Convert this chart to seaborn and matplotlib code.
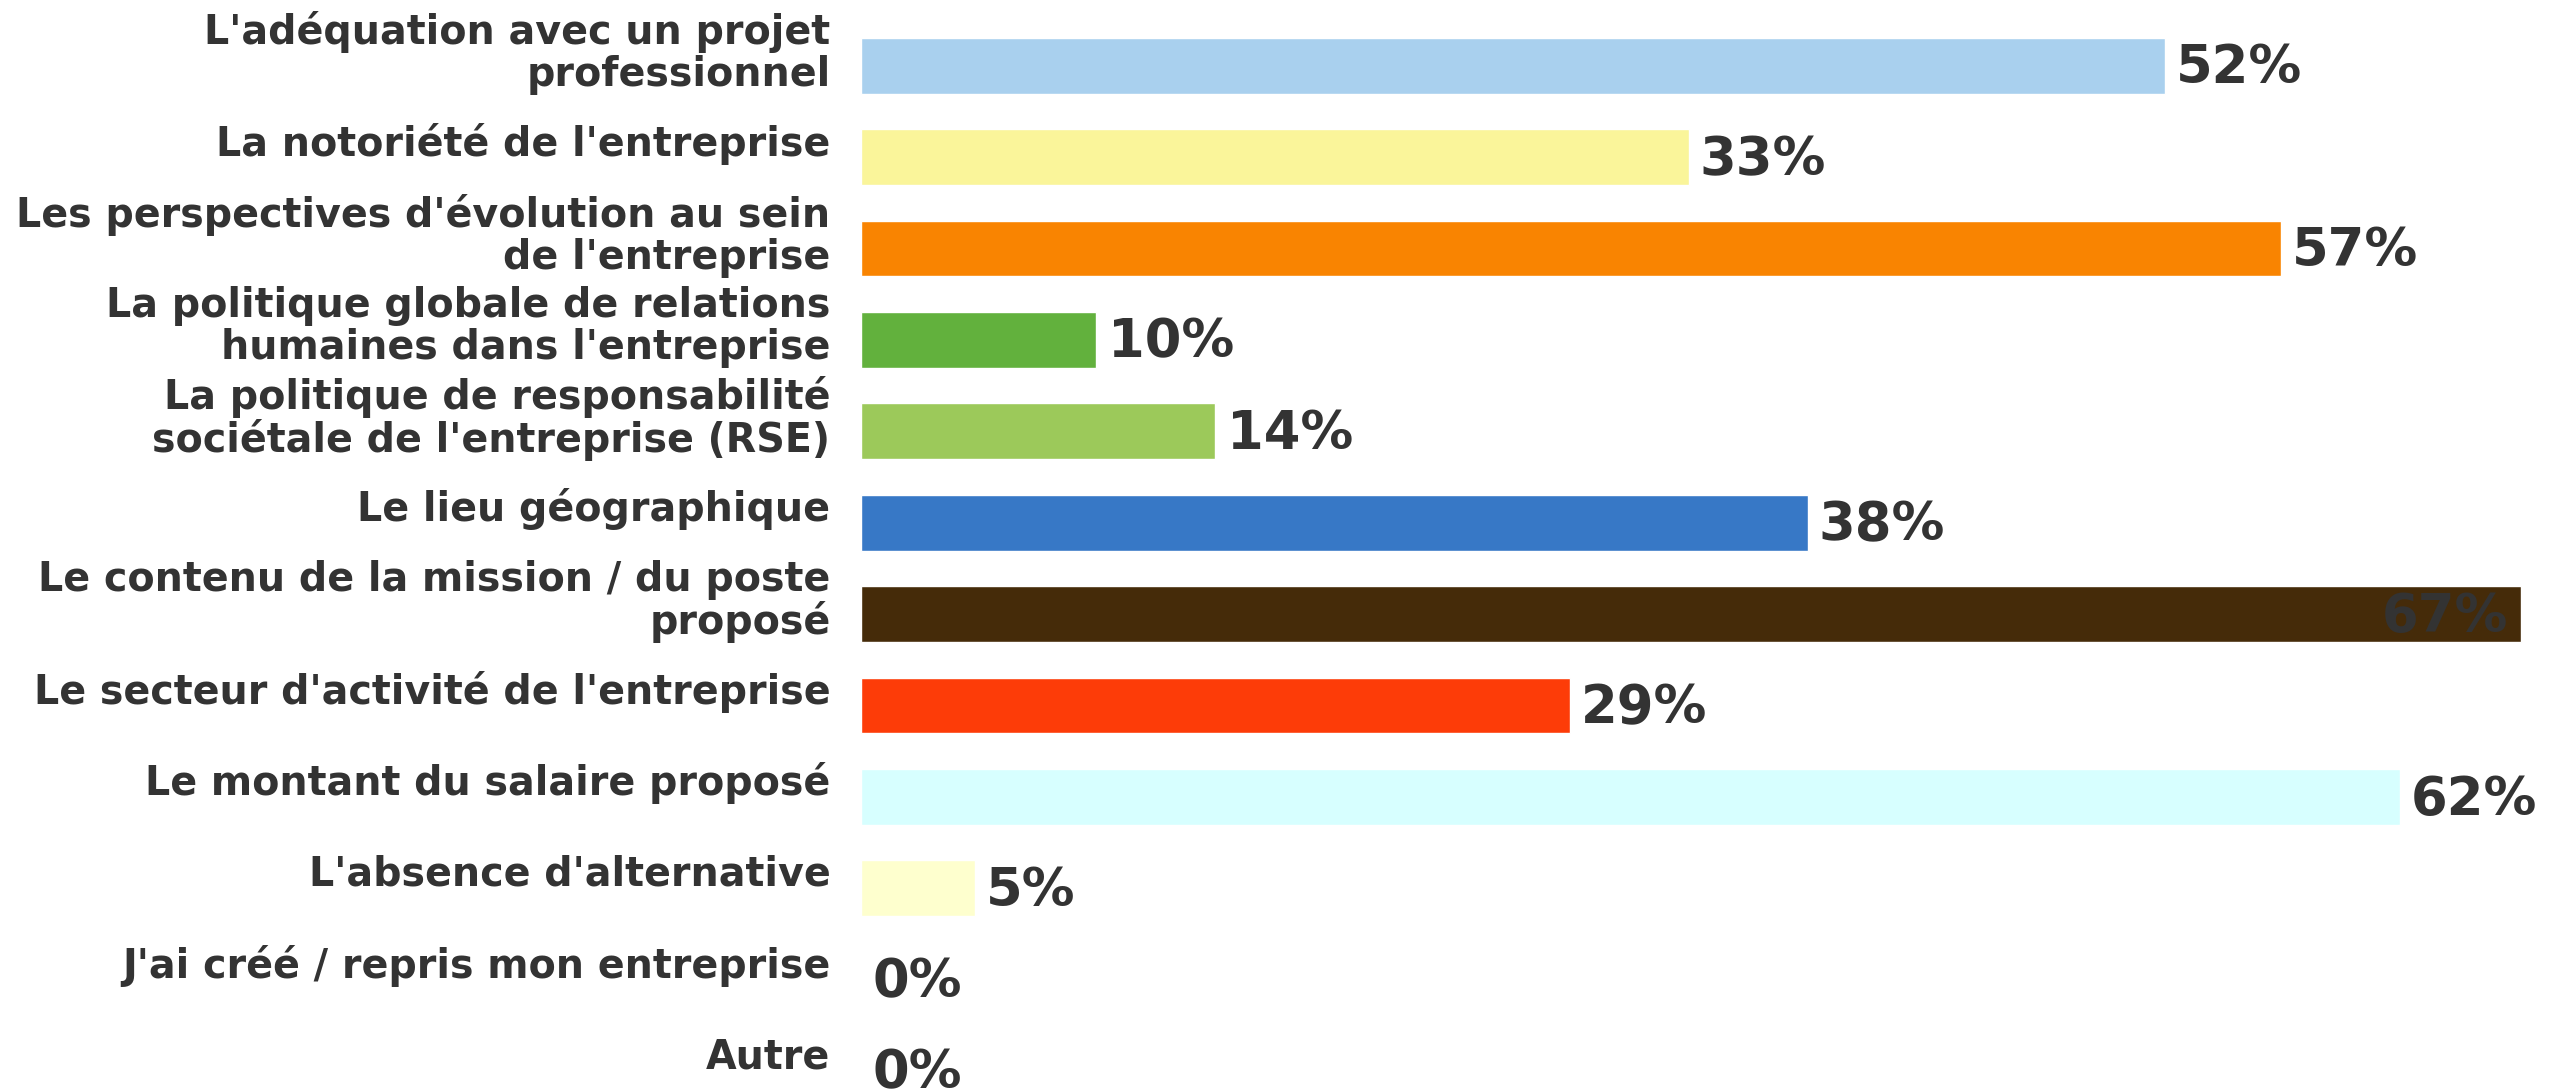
import matplotlib
matplotlib.use("Agg")
import matplotlib.pyplot as plt
import matplotlib.transforms as mtransforms
import seaborn as sns
import pandas as pd

categories = [
    "L'adéquation avec un projet\nprofessionnel",
    "La notoriété de l'entreprise",
    "Les perspectives d'évolution au sein\nde l'entreprise",
    "La politique globale de relations\nhumaines dans l'entreprise",
    "La politique de responsabilité\nsociétale de l'entreprise (RSE)",
    "Le lieu géographique",
    "Le contenu de la mission / du poste\nproposé",
    "Le secteur d'activité de l'entreprise",
    "Le montant du salaire proposé",
    "L'absence d'alternative",
    "J'ai créé / repris mon entreprise",
    "Autre",
]
values = [52.6, 33.4, 57.3, 9.5, 14.3, 38.2, 67.0, 28.6, 62.1, 4.6, 0.0, 0.0]
value_labels = ["52%", "33%", "57%", "10%", "14%", "38%", "67%", "29%", "62%", "5%", "0%", "0%"]
colors = ["#a9d0ee", "#faf59a", "#f98401", "#62b13d", "#9cc95a", "#3778c6",
          "#452b09", "#fd3c08", "#d7ffff", "#feffce", "#cccccc", "#cccccc"]

sns.set_theme(style="white")
plt.rcParams['font.family'] = ['DejaVu Sans']

df = pd.DataFrame({"cat": categories, "val": values})

W, H = 2571, 1089
fig = plt.figure(figsize=(W / 100, H / 100), dpi=100)
left = 861 / W
top = 20 / H
ax = fig.add_axes([left, 0.0, 1.0 - left, 1.0 - top])

sns.barplot(data=df, y="cat", x="val", hue="cat", palette=colors, orient="h",
            width=0.61, legend=False, ax=ax, saturation=1)

ax.set_xlim(0, 69.0)
ax.set_ylim(11 + 18 / 91.4, -0.5)
for s in ax.spines.values():
    s.set_visible(False)
ax.set_xticks([])
ax.set_xlabel("")
ax.set_ylabel("")
ax.tick_params(axis="y", length=0, pad=22)
shift = mtransforms.ScaledTranslation(0, 18 / 100, fig.dpi_scale_trans)
for t in ax.get_yticklabels():
    t.set_fontsize(28.5)
    t.set_fontweight("bold")
    t.set_color("#333333")
    t.set_linespacing(1.05)
    t.set_transform(t.get_transform() + shift)

xmax = max(values)
for i, (v, lab) in enumerate(zip(values, value_labels)):
    if v >= xmax - 0.01:
        ax.annotate(lab, (v, i), xytext=(-9.5, -2), textcoords="offset points",
                    ha="right", va="center", fontsize=38, fontweight="bold", color="#333333")
    else:
        ax.annotate(lab, (v, i), xytext=(8, -2), textcoords="offset points",
                    ha="left", va="center", fontsize=38, fontweight="bold", color="#333333")

fig.savefig("out.png", dpi=100)
